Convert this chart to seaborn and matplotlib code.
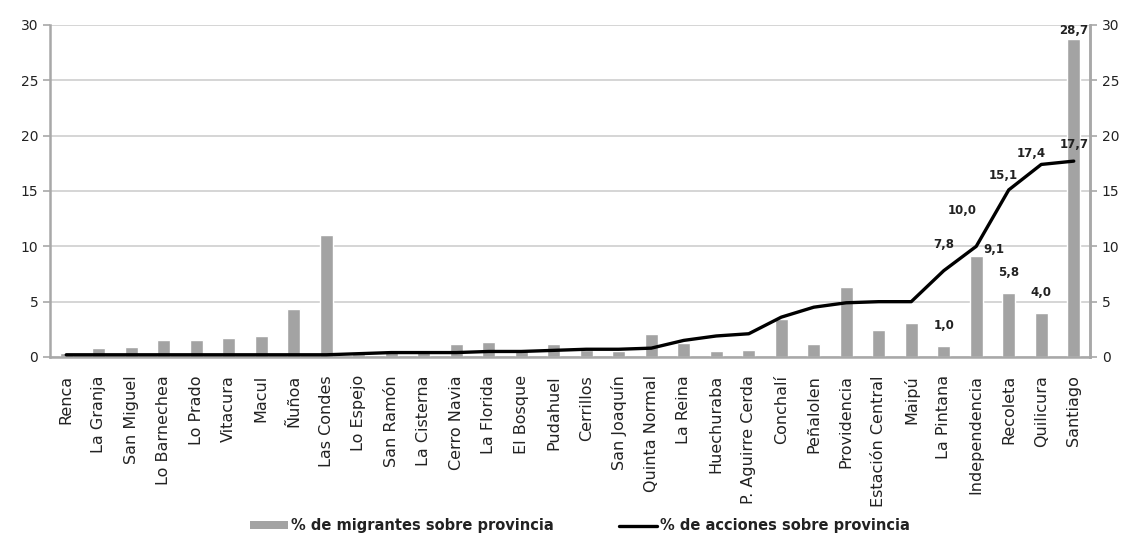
import numpy as np
import pandas as pd
import matplotlib
matplotlib.use("Agg")
import matplotlib.pyplot as plt
from matplotlib.lines import Line2D
from matplotlib.patches import Patch
import seaborn as sns

comunas = ["Renca", "La Granja", "San Miguel", "Lo Barnechea", "Lo Prado", "Vitacura",
           "Macul", "Ñuñoa", "Las Condes", "Lo Espejo", "San Ramón", "La Cisterna",
           "Cerro Navia", "La Florida", "El Bosque", "Pudahuel", "Cerrillos", "San Joaquín",
           "Quinta Normal", "La Reina", "Huechuraba", "P. Aguirre Cerda", "Conchalí",
           "Peñalolen", "Providencia", "Estación Central", "Maipú", "La Pintana",
           "Independencia", "Recoleta", "Quilicura", "Santiago"]
pct_migrantes = [0.4, 0.8, 0.9, 1.5, 1.5, 1.7, 1.9, 4.3, 11.0, 0.3, 0.5, 0.5,
                 1.2, 1.4, 0.5, 1.2, 0.6, 0.5, 2.1, 1.3, 0.5, 0.6, 3.4,
                 1.2, 6.3, 2.4, 3.1, 1.0, 9.1, 5.8, 4.0, 28.7]
pct_acciones = [0.2, 0.2, 0.2, 0.2, 0.2, 0.2, 0.2, 0.2, 0.2, 0.3, 0.4, 0.4,
                0.4, 0.5, 0.5, 0.6, 0.7, 0.7, 0.8, 1.5, 1.9, 2.1, 3.6,
                4.5, 4.9, 5.0, 5.0, 7.8, 10.0, 15.1, 17.4, 17.7]
yticks = [0, 5, 10, 15, 20, 25, 30]

label_migr = {"La Pintana": "1,0", "Independencia": "9,1", "Recoleta": "5,8",
              "Quilicura": "4,0", "Santiago": "28,7"}
label_acc = {"La Pintana": "7,8", "Independencia": "10,0", "Recoleta": "15,1",
             "Quilicura": "17,4", "Santiago": "17,7"}

df = pd.DataFrame({"comuna": comunas, "migr": pct_migrantes, "acc": pct_acciones})
df["pos"] = np.arange(len(df))

sns.set_style("white")
plt.rcParams["font.family"] = ["DejaVu Sans"]

fig = plt.figure(figsize=(11.28, 5.36), dpi=100)
ax = fig.add_axes([50 / 1128, 1 - 357 / 536, 1040 / 1128, 332 / 536])

bar_color = "#a3a3a3"
grid_color = "#d2d2d2"
spine_color = "#a8a8a8"
text_color = "#222222"

sns.barplot(data=df, x="comuna", y="migr", color=bar_color, width=0.4,
            saturation=1, ax=ax, zorder=2)
sns.lineplot(data=df, x="pos", y="acc", color="black", linewidth=2.4,
             ax=ax, zorder=3)

ax.set_xlim(-0.5, len(df) - 0.5)
ax.set_ylim(0, 30)
ax.set_yticks(yticks)
ax.set_yticklabels([str(v) for v in yticks], fontsize=10, color=text_color)
ax.yaxis.grid(True, color=grid_color, linewidth=1.3, zorder=0)
ax.set_axisbelow(True)
ax.set_xlabel("")
ax.set_ylabel("")

ax.set_xticks(df["pos"])
ax.set_xticklabels(df["comuna"], rotation=90, fontsize=11.5, color=text_color)
ax.set_xticks(np.arange(len(df) + 1) - 0.5, minor=True)
ax.tick_params(axis="x", which="major", length=0, pad=13)
ax.tick_params(axis="x", which="minor", length=5, color=spine_color, width=1.2,
               direction="out")
ax.tick_params(axis="y", which="major", length=5, color=spine_color, width=1.2,
               direction="out", left=True)

ax.spines["top"].set_visible(False)
for side in ["left", "right", "bottom"]:
    ax.spines[side].set_color(spine_color)
    ax.spines[side].set_linewidth(1.8)

ax2 = ax.twinx()
ax2.set_ylim(0, 30)
ax2.set_yticks(yticks)
ax2.set_yticklabels([str(v) for v in yticks], fontsize=10, color=text_color)
ax2.tick_params(axis="y", length=5, color=spine_color, width=1.2, direction="out")
ax2.spines["top"].set_visible(False)
ax2.spines["right"].set_color(spine_color)
ax2.spines["right"].set_linewidth(1.8)
ax2.spines["left"].set_visible(False)
ax2.spines["bottom"].set_visible(False)

# value labels for the last communes
offs_migr = {"La Pintana": (0, 10), "Independencia": (13, 0), "Recoleta": (0, 10),
             "Quilicura": (0, 10), "Santiago": (0, 2)}
offs_acc = {"La Pintana": (0, 14), "Independencia": (-10, 21), "Recoleta": (-4, 6),
            "Quilicura": (-7, 3), "Santiago": (0, 7)}
for _, r in df.iterrows():
    if r["comuna"] in label_migr:
        ax.annotate(label_migr[r["comuna"]], (r["pos"], r["migr"]),
                    xytext=offs_migr[r["comuna"]], textcoords="offset points",
                    ha="center", va="bottom", fontsize=8.5, fontweight="bold",
                    color=text_color, zorder=5)
    if r["comuna"] in label_acc:
        ax.annotate(label_acc[r["comuna"]], (r["pos"], r["acc"]),
                    xytext=offs_acc[r["comuna"]], textcoords="offset points",
                    ha="center", va="bottom", fontsize=8.5, fontweight="bold",
                    color=text_color, zorder=5)

handles = [Patch(facecolor=bar_color, edgecolor="none"),
           Line2D([0], [0], color="black", linewidth=2.4)]
fig.legend(handles, ["% de migrantes sobre provincia", "% de acciones sobre provincia"],
           loc="center", bbox_to_anchor=(0.514, 0.019), ncol=2, frameon=False,
           prop={"size": 10.5, "weight": "bold"}, labelcolor=text_color,
           handlelength=2.6, handleheight=0.5, handletextpad=0.2, columnspacing=4.5)

fig.savefig("out.png", dpi=100, facecolor="white")
